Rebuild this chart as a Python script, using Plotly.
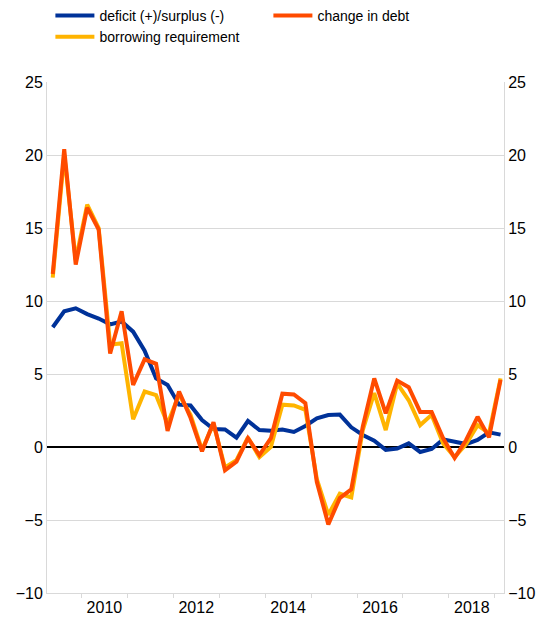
import plotly.graph_objects as go

quarters = ["2009Q2","2009Q3","2009Q4",
            "2010Q1","2010Q2","2010Q3","2010Q4",
            "2011Q1","2011Q2","2011Q3","2011Q4",
            "2012Q1","2012Q2","2012Q3","2012Q4",
            "2013Q1","2013Q2","2013Q3","2013Q4",
            "2014Q1","2014Q2","2014Q3","2014Q4",
            "2015Q1","2015Q2","2015Q3","2015Q4",
            "2016Q1","2016Q2","2016Q3","2016Q4",
            "2017Q1","2017Q2","2017Q3","2017Q4",
            "2018Q1","2018Q2","2018Q3","2018Q4",
            "2019Q1"]

deficit = [8.2, 9.3, 9.5, 9.1, 8.8, 8.4, 8.6, 7.9, 6.6, 4.7,
           4.25, 2.9, 2.85, 1.85, 1.23, 1.2, 0.64, 1.78, 1.16, 1.12,
           1.2, 1.03, 1.44, 1.96, 2.19, 2.22, 1.35, 0.82, 0.43, -0.2,
           -0.1, 0.25, -0.34, -0.14, 0.52, 0.37, 0.2, 0.48, 1.0, 0.85]

borrowing = [11.6, 20.0, 12.8, 16.6, 15.0, 7.0, 7.1, 1.9, 3.8, 3.55,
             1.6, 3.6, 2.2, -0.2, 1.6, -1.4, -0.9, 0.65, -0.7, 0.0,
             2.9, 2.85, 2.55, -2.2, -4.65, -3.2, -3.45, 1.16, 3.7, 1.16,
             4.35, 3.2, 1.5, 2.2, 0.25, -0.7, 0.2, 1.5, 0.94, 4.7]

debt_change = [11.85, 20.4, 12.5, 16.4, 14.9, 6.4, 9.3, 4.25, 6.0, 5.7,
               1.1, 3.8, 2.0, -0.3, 1.7, -1.6, -1.0, 0.6, -0.55, 0.6,
               3.65, 3.6, 3.0, -2.4, -5.3, -3.5, -2.9, 1.4, 4.7, 2.3,
               4.55, 4.1, 2.4, 2.4, 0.6, -0.75, 0.48, 2.07, 0.66, 4.6]

year_labels = ["2010", "2012", "2014", "2016", "2018"]
y_ticks = [-10, -5, 0, 5, 10, 15, 20, 25]


def qpos(q):
    y, n = q.split("Q")
    return int(y) + (int(n) - 0.5) / 4


x = [qpos(q) for q in quarters]

BLUE = "#003299"
YELLOW = "#FFB400"
ORANGE = "#FF4B00"
GRID = "#d9d9d9"
FONT = "Liberation Sans, Arial, sans-serif"

fig = go.Figure()
fig.add_trace(go.Scatter(x=x, y=deficit, mode="lines", name="deficit (+)/surplus (-)",
                         line=dict(color=BLUE, width=4), legendrank=1))
fig.add_trace(go.Scatter(x=x, y=borrowing, mode="lines", name="borrowing requirement",
                         line=dict(color=YELLOW, width=4), legendrank=3))
fig.add_trace(go.Scatter(x=x, y=debt_change, mode="lines", name="change in debt",
                         line=dict(color=ORANGE, width=4), legendrank=2))
fig.add_trace(go.Scatter(x=[x[0]], y=[deficit[0]], yaxis="y2", mode="lines",
                         showlegend=False, hoverinfo="skip", line=dict(width=0),
                         opacity=0))

tickvals_x = [int(v) + 0.5 for v in year_labels]

fig.update_layout(
    width=546, height=620,
    margin=dict(l=47, r=42, t=82, b=27, autoexpand=False),
    paper_bgcolor="white", plot_bgcolor="white",
    font=dict(family=FONT, size=16, color="#000000"),
    showlegend=True,
    legend=dict(orientation="h", x=0.0923, y=1.0, xref="container", yref="container",
                xanchor="left", yanchor="top",
                entrywidth=164, entrywidthmode="pixels", itemwidth=39,
                font=dict(size=14, family=FONT), tracegroupgap=0,
                bgcolor="rgba(0,0,0,0)"),
    xaxis=dict(range=[2009.25, 2019.2], tickmode="array", tickvals=tickvals_x,
               ticktext=year_labels, ticks="", showgrid=False, zeroline=False,
               showline=True, linecolor=GRID, linewidth=1,
               minor=dict(tick0=2010, dtick=1, ticks="outside", ticklen=4,
                          tickcolor=GRID, showgrid=False),
               tickfont=dict(size=16)),
    yaxis=dict(range=[-10, 25], tickmode="array", tickvals=y_ticks,
               showgrid=True, gridcolor=GRID, gridwidth=1,
               zeroline=True, zerolinecolor="#000000", zerolinewidth=2,
               showline=True, linecolor=GRID, linewidth=1, ticks="",
               tickfont=dict(size=16)),
    yaxis2=dict(range=[-10, 25], tickmode="array", tickvals=y_ticks,
                overlaying="y", side="right", showgrid=False, zeroline=False,
                showline=True, linecolor=GRID, linewidth=1, ticks="",
                tickfont=dict(size=16)),
)

fig.write_html("out.html", post_script="document.body.style.margin='0';",
               config={"displayModeBar": False})
